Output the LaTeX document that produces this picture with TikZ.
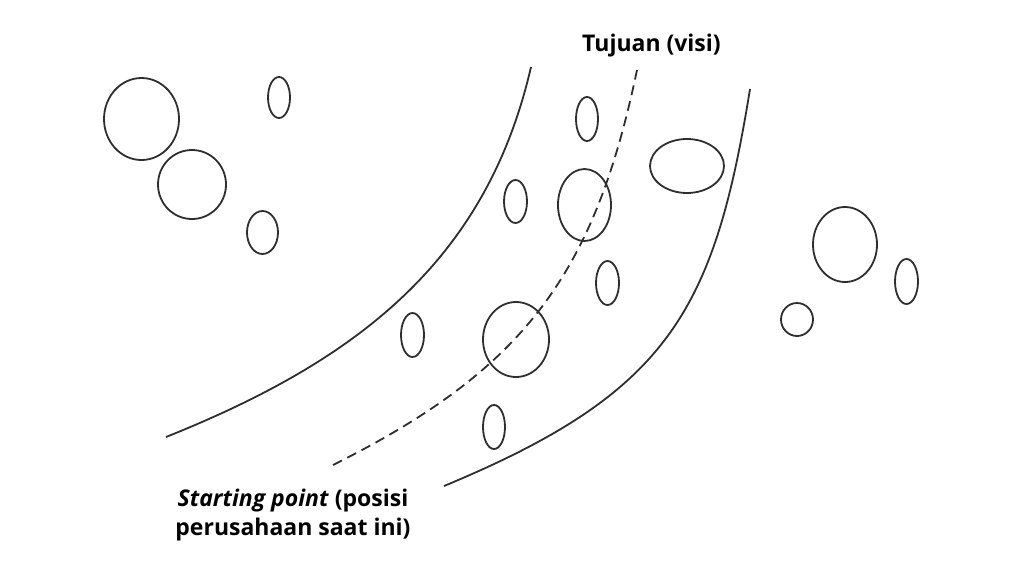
\documentclass[tikz,border=0pt]{standalone}
\usepackage{fontspec}
\setmainfont{Open Sans}
\usetikzlibrary{shapes.geometric}
\definecolor{ink}{HTML}{2E2E2E}
\tikzset{
  blob/.style={ellipse, draw=ink, line width=1.8pt, inner sep=0pt, minimum width=#1},
  curveline/.style={draw=ink, line width=1.8pt},
  dashline/.style={draw=ink, line width=1.8pt, dash pattern=on 10pt off 6pt},
  lbl/.style={font=\fontsize{23}{29}\selectfont\bfseries, text=black, inner sep=0pt}
}
\begin{document}
\begin{tikzpicture}[x=1pt,y=-1pt]
\useasboundingbox (0,0) rectangle (1024,576);
% curves
\coordinate (l0) at (166,437);
\coordinate (l1) at (531,67);
\coordinate (d0) at (333,465);
\coordinate (d1) at (637,70);
\coordinate (r0) at (444,486);
\coordinate (r1) at (750,89);
\path[curveline] (l0) .. controls (356,361) and (486,262) .. (l1);
\path[dashline] (d0) .. controls (523,370) and (594,276) .. (d1);
\path[curveline] (r0) .. controls (668,393) and (714,312) .. (r1);
% blobs left
\node[blob=75pt, minimum height=82pt] (a1) at (141.5,119) {};
\node[blob=68pt, minimum height=69pt] (a2) at (192,184.5) {};
\node[blob=22pt, minimum height=41pt] (a3) at (279,97.5) {};
\node[blob=31pt, minimum height=43pt] (a4) at (262.5,232.5) {};
% blobs middle
\node[blob=22pt, minimum height=44pt] (m1) at (587,119) {};
\node[blob=74pt, minimum height=54pt] (m2) at (687,166) {};
\node[blob=23pt, minimum height=43pt] (m3) at (515.5,201.5) {};
\node[blob=53pt, minimum height=72pt] (m4) at (584.5,205) {};
\node[blob=23pt, minimum height=44pt] (m5) at (607.5,283) {};
\node[blob=23pt, minimum height=44pt] (m6) at (412.5,335) {};
\node[blob=66pt, minimum height=75pt] (m7) at (516,339.5) {};
\node[blob=22pt, minimum height=44pt] (m8) at (494,427) {};
% blobs right
\node[blob=64pt, minimum height=75pt] (r2) at (845,244.5) {};
\node[blob=23pt, minimum height=45pt] (r3) at (906.5,281.5) {};
\node[blob=32pt, minimum height=33pt] (r4) at (797,319.5) {};
% labels
\node[lbl, anchor=base] (goal) at (651.5,51) {Tujuan (visi)};
\node[lbl, anchor=base, align=center] (start) at (293,535) {\textit{Starting point} (posisi\\perusahaan saat ini)};
\end{tikzpicture}
\end{document}
